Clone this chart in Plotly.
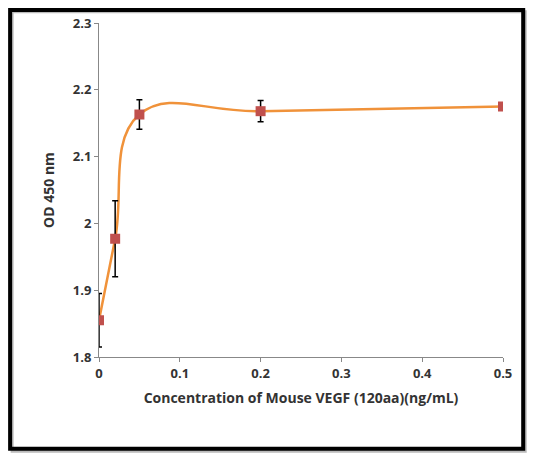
import plotly.graph_objects as go

conc = [0, 0.02, 0.05, 0.2, 0.5]
od = [1.855, 1.977, 2.163, 2.168, 2.175]
err = [0.04, 0.057, 0.022, 0.016, 0.0]
xticks = [0, 0.1, 0.2, 0.3, 0.4, 0.5]
xlabels = ["0", "0.1", "0.2", "0.3", "0.4", "0.5"]
yticks = [1.8, 1.9, 2.0, 2.1, 2.2, 2.3]
ylabels = ["1.8", "1.9", "2", "2.1", "2.2", "2.3"]

fig = go.Figure()
fig.add_trace(go.Scatter(x=conc, y=od, mode="lines", line=dict(color="#F0923A", width=2.5, shape="spline", smoothing=1.2), hoverinfo="skip"))
fig.add_trace(go.Scatter(x=conc, y=od, mode="markers",
                         marker=dict(symbol="square", size=10, color="#C0504D"),
                         error_y=dict(type="data", array=err, color="black", thickness=1.5, width=3)))
font = dict(family="Open Sans", size=13, color="#333333")
tf = dict(family="Open Sans", size=13, color="#333")
fig.update_layout(
    width=521, height=449, showlegend=False,
    paper_bgcolor="white", plot_bgcolor="white",
    margin=dict(l=91, r=26, t=15, b=100, autoexpand=False),
    font=font,
    xaxis=dict(range=[0, 0.5], tickvals=xticks, ticktext=["<b>%s</b>" % t for t in xlabels], showline=True, linecolor="#888", linewidth=1,
               ticks="outside", tickcolor="#888", ticklen=4, showgrid=False, zeroline=False,
               title=dict(text="<b>Concentration of Mouse VEGF (120aa)(ng/mL)</b>", font=dict(family="Open Sans", size=14, color="#333"), standoff=12),
               tickfont=tf),
    yaxis=dict(range=[1.8, 2.3], tickvals=yticks, ticktext=["<b>%s</b>" % t for t in ylabels], showline=True, linecolor="#888", linewidth=1,
               ticks="outside", tickcolor="#888", ticklen=4, showgrid=False, zeroline=False,
               title=dict(text="<b>OD 450 nm</b>", font=dict(family="Open Sans", size=14, color="#333"), standoff=14),
               tickfont=tf),
    shapes=[
        dict(type="rect", xref="paper", yref="paper", x0=-0.215, x1=1.055, y0=-0.282, y1=1.034,
             line=dict(color="#BBBBBB", width=3), layer="below"),
        dict(type="rect", xref="paper", yref="paper", x0=-0.220, x1=1.050, y0=-0.275, y1=1.039,
             line=dict(color="black", width=4), layer="below"),
    ],
)
fig.write_html("out.html")
